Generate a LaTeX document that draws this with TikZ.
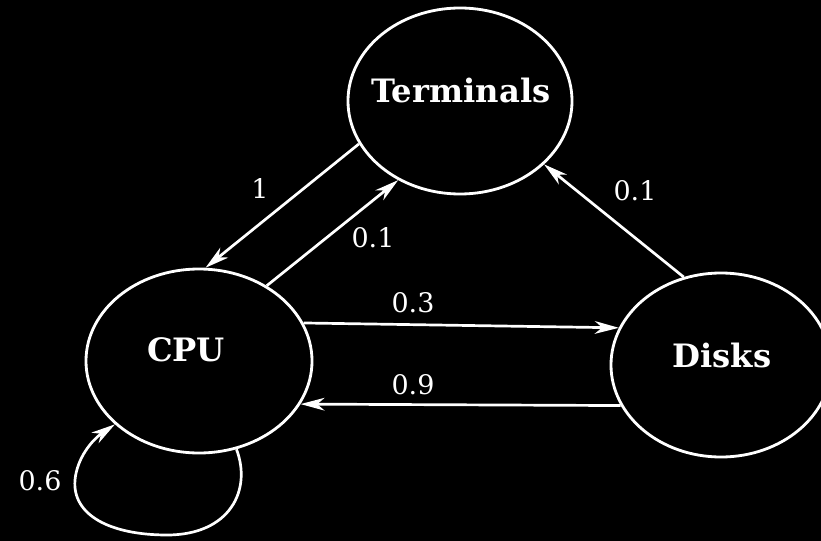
\documentclass[tikz,border=0pt]{standalone}
\usepackage{fontspec}
\setmainfont{DejaVu Serif}
\usetikzlibrary{arrows.meta,shapes.geometric}
\begin{document}
\begin{tikzpicture}[x=0.03cm,y=-0.03cm,
  state/.style={draw=white, line width=2.4pt, ellipse, inner sep=0pt},
  statetext/.style={text=white, font=\fontsize{27.5}{32}\selectfont\bfseries},
  prob/.style={text=white, font=\fontsize{23}{28}\selectfont},
  edge/.style={draw=white, line width=2.3pt,
    -{Stealth[length=0.72cm, width=0.38cm, inset=0.22cm]}}]
  % black page
  \fill[black] (0,0) rectangle (821,541);
  \useasboundingbox (0,0) rectangle (821,541);
  \clip (0,0) rectangle (821,541);

  % the three states
  \node[state, minimum width=6.72cm, minimum height=5.58cm] (term) at (460,101) {};
  \node[state, minimum width=6.78cm, minimum height=5.52cm] (cpu) at (199,361) {};
  \node[state, minimum width=6.6cm, minimum height=5.52cm] (disk) at (721,365) {};

  \node[statetext] (termtext) at (461,90) {Terminals};
  \node[statetext] (cputext) at (186,350) {CPU};
  \node[statetext] (disktext) at (722,355) {Disks};

  % transitions
  \draw[edge] (term.203) -- (cpu.86);
  \draw[edge] (cpu.48) -- (term.232);
  \draw[edge] (disk.113) -- (term.-37);
  \draw[edge] (cpu.20) -- (disk.160);
  \draw[edge] (disk.202) -- (cpu.-23);
  \draw[edge] (cpu.-67) .. controls (252,490) and (230,535) .. (167,535)
     .. controls (110,535) and (72,515) .. (75,480)
     .. controls (77,458) and (92,440) .. (cpu.217);

  % transition probabilities
  \node[prob] (p1) at (260,188) {1};
  \node[prob] (p2) at (373,238) {0.1};
  \node[prob] (p3) at (635,191) {0.1};
  \node[prob] (p4) at (413,303) {0.3};
  \node[prob] (p5) at (413,385) {0.9};
  \node[prob] (p6) at (40,481) {0.6};
\end{tikzpicture}
\end{document}
